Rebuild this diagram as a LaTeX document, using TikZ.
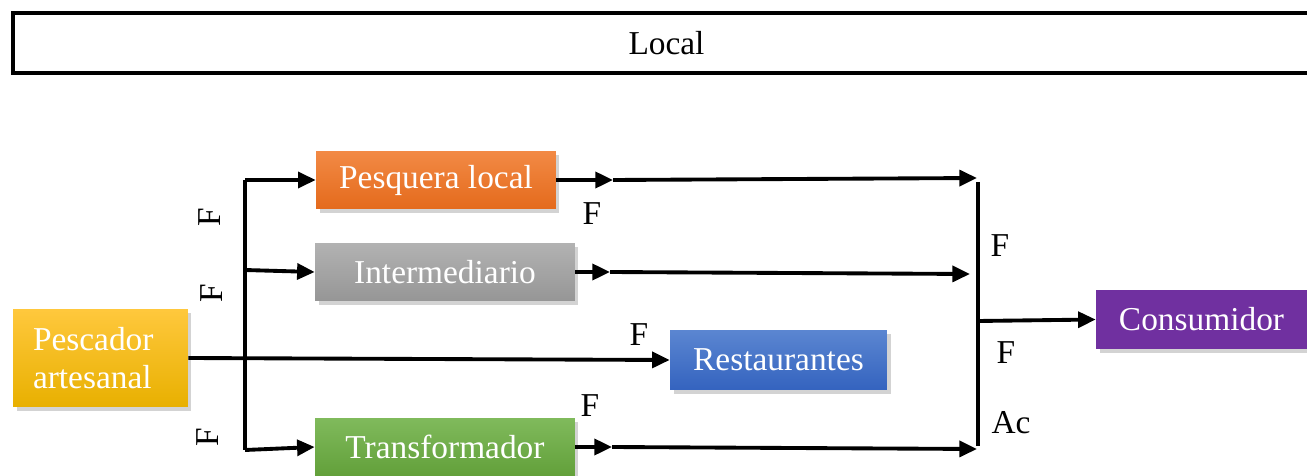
\documentclass[tikz,border=0pt]{standalone}
\usepackage{fontspec}
\setmainfont{Liberation Serif}
\usepackage{tikz}
\usetikzlibrary{arrows.meta, positioning, shadows}
\definecolor{PescTop}{HTML}{FFC83D}
\definecolor{PescBot}{HTML}{E8B000}
\definecolor{PesqTop}{HTML}{F28A45}
\definecolor{PesqBot}{HTML}{E46A1C}
\definecolor{InterTop}{HTML}{B2B2B2}
\definecolor{InterBot}{HTML}{969696}
\definecolor{RestTop}{HTML}{5B86D1}
\definecolor{RestBot}{HTML}{3463BF}
\definecolor{TransTop}{HTML}{80BA5C}
\definecolor{TransBot}{HTML}{62A03A}
\definecolor{Purple}{HTML}{7030A0}
\tikzset{
  actor/.style={inner sep=0pt, text=white, font=\fontsize{19}{22}\selectfont,
                drop shadow={shadow xshift=2pt, shadow yshift=-2pt, opacity=.35}},
  flow/.style={-{Triangle[length=10pt,width=9pt]}, line width=2.2pt},
  lbl/.style={font=\fontsize{19}{22}\selectfont, inner sep=0pt}
}

\begin{document}
\begin{tikzpicture}[x=0.02cm, y=-0.02cm]
  \useasboundingbox (0,0) rectangle (1307,476);
  % level
  \node[draw, line width=2pt, minimum width=26.14cm, minimum height=1.2cm,
        lbl] (local) at (666.5,43) {Local};

  % actors
  \node[actor, top color=PescTop, bottom color=PescBot, minimum width=3.5cm,
        minimum height=1.96cm, align=left, text width=2.7cm] (pesc) at (100.5,358)
        {Pescador\\artesanal};
  \node[actor, top color=PesqTop, bottom color=PesqBot, minimum width=4.8cm,
        minimum height=1.16cm] (pesq) at (436,180) {Pesquera local};
  \node[actor, top color=InterTop, bottom color=InterBot, minimum width=5.2cm,
        minimum height=1.16cm] (inter) at (445,272) {Intermediario};
  \node[actor, top color=RestTop, bottom color=RestBot, minimum width=4.34cm,
        minimum height=1.2cm] (rest) at (778.5,360) {Restaurantes};
  \node[actor, top color=TransTop, bottom color=TransBot, minimum width=5.2cm,
        minimum height=1.16cm] (trans) at (445,447) {Transformador};
  \node[actor, fill=Purple, minimum width=4.22cm,
        minimum height=1.18cm] (cons) at (1201.5,319.5) {Consumidor};

  % branching points
  \coordinate (tTop) at (245,180);
  \coordinate (tMid) at (245,270);
  \coordinate (tBot) at (245,450);
  \coordinate (p1) at (613,180);  \coordinate (p2) at (977,178);
  \coordinate (i1) at (610,272);  \coordinate (i2) at (970,274);
  \coordinate (t1) at (612,447);  \coordinate (t2) at (977,449);
  \coordinate (bTop) at (978,182);
  \coordinate (bMid) at (978,321);
  \coordinate (bBot) at (978,446);

  % connectors
  \draw[line width=2.2pt] (tTop) -- (tBot);
  \draw[flow] (tTop) -- (pesq.west);
  \draw[flow] (tMid) -- (inter.west);
  \draw[flow] (tBot) -- (trans.west);
  \draw[flow] (pesc.east) -- (rest.west);
  \draw[flow] (pesq.east) -- (p1); \draw[flow] (p1) -- (p2);
  \draw[flow] (inter.east) -- (i1); \draw[flow] (i1) -- (i2);
  \draw[flow] (trans.east) -- (t1); \draw[flow] (t1) -- (t2);
  \draw[line width=2.2pt] (bTop) -- (bBot);
  \draw[flow] (bMid) -- (cons.west);

  % labels
  \node[lbl, rotate=90] (f1) at (210,217) {F};
  \node[lbl, rotate=90] (f2) at (212,293) {F};
  \node[lbl, rotate=90] (f3) at (208,437) {F};
  \node[lbl] (f4) at (592,214) {F};
  \node[lbl] (f5) at (639,335) {F};
  \node[lbl] (f6) at (590,406) {F};
  \node[lbl] (f7) at (1000,246) {F};
  \node[lbl] (f8) at (1006,353) {F};
  \node[lbl] (ac) at (1011,423) {Ac};
\end{tikzpicture}
\end{document}
